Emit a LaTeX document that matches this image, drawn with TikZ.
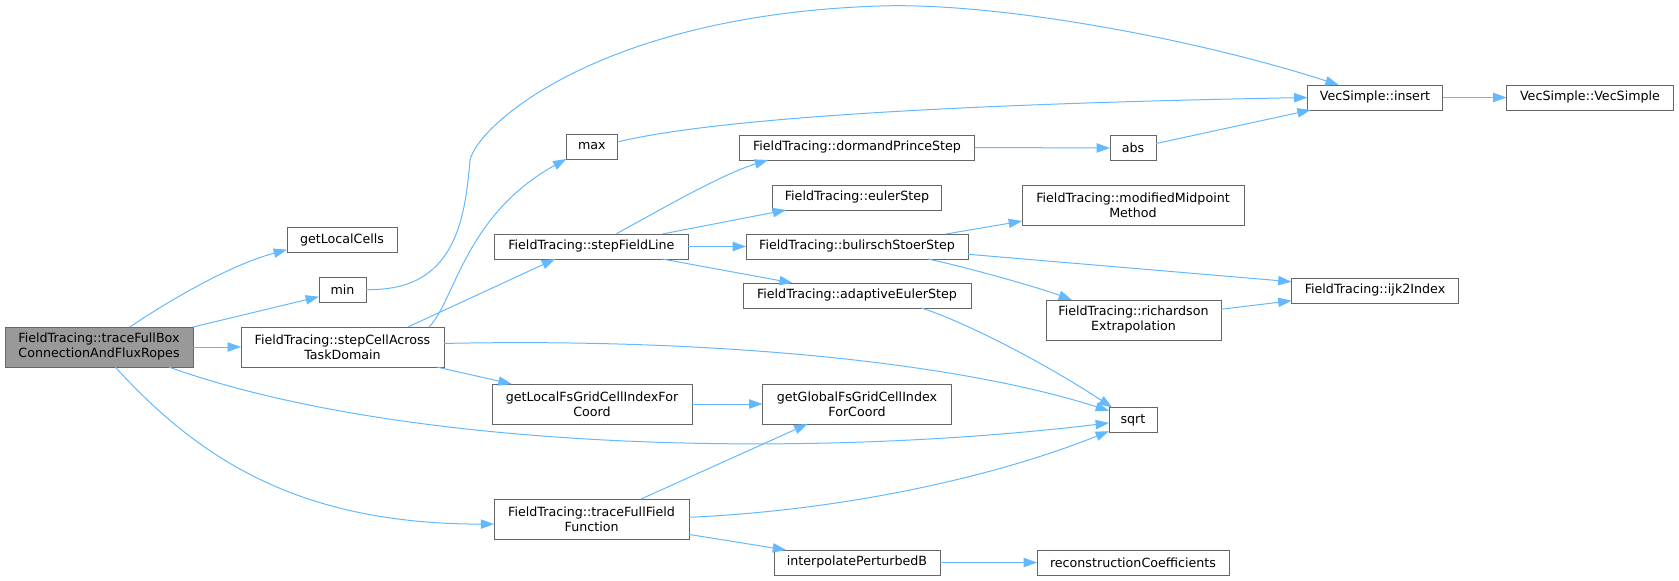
\documentclass[tikz,border=0pt]{standalone}
\usepackage{fontspec}
\newfontfamily\dxfont{DejaVu Sans}
\usetikzlibrary{arrows.meta}

\definecolor{boxline}{HTML}{666666}
\definecolor{rootfill}{HTML}{999999}
\definecolor{callblue}{HTML}{63B8FF}

\tikzset{
  fn/.style={draw=boxline, fill=white, line width=0.7pt, inner sep=0pt, outer sep=0pt,
    align=center, minimum height=18.75pt, font=\dxfont\fontsize{9.5}{11.25}\selectfont},
  fn2/.style={fn, minimum height=30pt},
  wd/.style={minimum width=#1*0.75pt},
  call/.style={draw=callblue, line width=0.75pt, -{Triangle[length=10pt,width=7pt]}}
}

\begin{document}
\begin{tikzpicture}[x=0.75pt,y=0.75pt,yscale=-1,xscale=1]
    \useasboundingbox (0,0) rectangle (1679,581);

    % Function boxes
    \node[fn2, wd=188, fill=rootfill] (traceBox) at (99,347) {FieldTracing::traceFullBox\\ConnectionAndFluxRopes};
    \node[fn, wd=110] (localCells) at (342,240) {getLocalCells};
    \node[fn, wd=47] (minf) at (342.5,289.5) {min};
    \node[fn2, wd=203] (stepCell) at (342.5,347) {FieldTracing::stepCellAcross\\TaskDomain};
    \node[fn, wd=51] (maxf) at (591.8,146.5) {max};
    \node[fn, wd=194] (stepLine) at (591.4,246.5) {FieldTracing::stepFieldLine};
    \node[fn2, wd=200] (localIdx) at (592,404) {getLocalFsGridCellIndexFor\\Coord};
    \node[fn2, wd=195] (traceField) at (591.6,519) {FieldTracing::traceFullField\\Function};
    \node[fn, wd=235] (dormand) at (857,147.5) {FieldTracing::dormandPrinceStep};
    \node[fn, wd=169] (euler) at (857,197.5) {FieldTracing::eulerStep};
    \node[fn, wd=222] (bulirsch) at (857,246.5) {FieldTracing::bulirschStoerStep};
    \node[fn, wd=228] (adaptive) at (857,295.5) {FieldTracing::adaptiveEulerStep};
    \node[fn2, wd=189] (globalIdx) at (857,404) {getGlobalFsGridCellIndex\\ForCoord};
    \node[fn, wd=166] (interpB) at (857,562.5) {interpolatePerturbedB};
    \node[fn, wd=46] (absf) at (1133,148) {abs};
    \node[fn2, wd=222] (midpoint) at (1133,205.5) {FieldTracing::modifiedMidpoint\\Method};
    \node[fn2, wd=175] (richardson) at (1133.5,320) {FieldTracing::richardson\\Extrapolation};
    \node[fn, wd=48] (sqrtf) at (1133,420) {sqrt};
    \node[fn, wd=192] (reconCoef) at (1133,562.5) {reconstructionCoefficients};
    \node[fn, wd=135] (vinsert) at (1375,97.5) {VecSimple::insert};
    \node[fn, wd=167] (vsimple) at (1590,97.5) {VecSimple::VecSimple};
    \node[fn, wd=167] (ijk) at (1375,290.5) {FieldTracing::ijk2Index};

    % Calls from traceFullBox
    \draw[call] (traceBox.33.7) .. controls (170,300) and (230,265) .. (localCells.190);
    \draw[call] (traceBox.12.9) -- (minf.197.7);
    \draw[call] (traceBox.east) -- (stepCell.west);
    \draw[call] (traceBox.-16.2) .. controls (400,450) and (800,460) .. (sqrtf.187.1);
    \draw[call] (traceBox.-51.3) .. controls (200,460) and (300,524) .. (traceField.183);

    % min
    \draw[call] (minf.east) .. controls (455,292) and (465,220) .. (470,160)
      .. controls (478,125) and (600,15) .. (880,6)
      .. controls (1000,2) and (1200,40) .. (vinsert.161.8);

    % stepCellAcross
    \draw[call] (stepCell.13.6) .. controls (455,300) and (465,215) .. (maxf.206.5);
    \draw[call] (stepCell.17) -- (stepLine.199.5);
    \draw[call] (stepCell.-12.9) -- (localIdx.166.9);
    \draw[call] (stepCell.2.3) .. controls (700,338) and (950,360) .. (sqrtf.159.4);

    % max
    \draw[call] (maxf.10.1) .. controls (700,122) and (900,105) .. (vinsert.west);

    % stepFieldLine
    \draw[call] (stepLine.27.9) .. controls (660,210) and (720,175) .. (dormand.188.8);
    \draw[call] (stepLine.10.1) -- (euler.190.3);
    \draw[call] (stepLine.east) -- (bulirsch.west);
    \draw[call] (stepLine.-10.1) -- (adaptive.169.7);

    % dormandPrinceStep, abs, insert
    \draw[call] (dormand.east) -- (absf.west);
    \draw[call] (absf.11.5) -- (vinsert.191.5);
    \draw[call] (vinsert.east) -- (vsimple.west);

    % bulirschStoerStep
    \draw[call] (bulirsch.8.4) -- (midpoint.188.7);
    \draw[call] (bulirsch.-4.9) -- (ijk.174.7);
    \draw[call] (bulirsch.-10.05) .. controls (970,268) and (1040,288) .. (richardson.162.5);
    \draw[call] (richardson.7) -- (ijk.187.6);

    % adaptiveEulerStep
    \draw[call] (adaptive.-11.8) .. controls (960,320) and (1040,360) .. (sqrtf.149.2);

    % grid index
    \draw[call] (localIdx.east) -- (globalIdx.west);

    % traceFullFieldFunction
    \draw[call] (traceField.22.5) -- (globalIdx.202.9);
    \draw[call] (traceField.1.8) .. controls (850,510) and (1000,475) .. (sqrtf.205.6);
    \draw[call] (traceField.-9.3) -- (interpB.170.7);
    \draw[call] (interpB.east) -- (reconCoef.west);

\end{tikzpicture}
\end{document}
